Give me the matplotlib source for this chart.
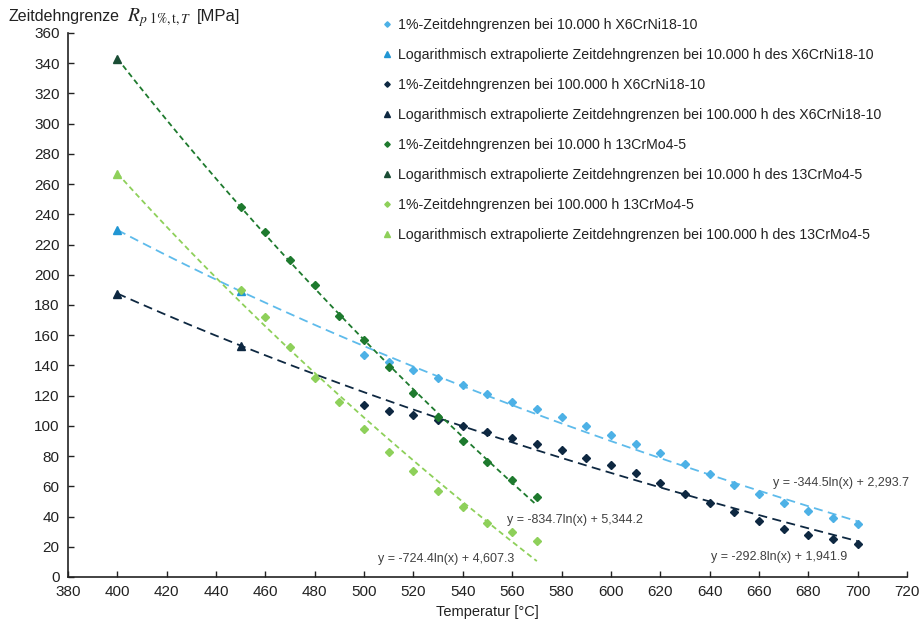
import numpy as np
import matplotlib
matplotlib.use("Agg")
import matplotlib.pyplot as plt

plt.rcParams["font.family"] = ["Liberation Sans", "DejaVu Sans"]
plt.rcParams["mathtext.fontset"] = "stix"

# --- data -------------------------------------------------------------
temp_x6 = [500, 510, 520, 530, 540, 550, 560, 570, 580, 590, 600,
           610, 620, 630, 640, 650, 660, 670, 680, 690, 700]
x6_10k = [147, 142, 137, 132, 127, 121, 116, 111, 106, 100, 94,
          88, 82, 75, 68, 61, 55, 49, 44, 39, 35]
x6_100k = [114, 110, 107, 104, 100, 96, 92, 88, 84, 79, 74,
           69, 62, 55, 49, 43, 37, 32, 28, 25, 22]

temp_x6_ext = [400, 450]
x6_10k_ext = [229.6, 189.1]
x6_100k_ext = [187.6, 153.1]

temp_cr = [450, 460, 470, 480, 490, 500, 510, 520, 530, 540, 550, 560, 570]
cr_10k = [245, 228, 210, 193, 173, 157, 139, 122, 106, 90, 76, 64, 53]
cr_100k = [190, 172, 152, 132, 116, 98, 83, 70, 57, 46, 36, 30, 24]

temp_cr_ext = [400]
cr_10k_ext = [343.1]
cr_100k_ext = [267.0]

# logarithmic trend lines: (slope, intercept, x-start, x-end)
trend_x6_10k = (-344.5, 2293.7, 400, 700)
trend_x6_100k = (-292.8, 1941.9, 400, 700)
trend_cr_10k = (-834.7, 5344.2, 400, 570)
trend_cr_100k = (-724.4, 4607.3, 400, 570)

c_lblue = "#4DB1E6"
c_blue_tri = "#2196D3"
c_navy = "#0E2841"
c_dgreen = "#1E7A2E"
c_dgreen_tri = "#1A4D35"
c_lgreen = "#8ED05A"
c_text = "#222222"

fig = plt.figure(figsize=(9.21, 6.28), dpi=100)
ax = fig.add_axes([68 / 921, 51 / 628, 839 / 921, 544 / 628])

def trend(params, color, dash):
    a, b, x0, x1 = params
    xs = np.linspace(x0, x1, 200)
    ax.plot(xs, a * np.log(xs) + b, color=color, lw=1.3,
            linestyle=(0, dash), zorder=2)

trend(trend_x6_10k, "#5EBBEB", (5, 3))
trend(trend_x6_100k, c_navy, (5, 3))
trend(trend_cr_10k, c_dgreen, (3, 2))
trend(trend_cr_100k, c_lgreen, (3, 2))

ms_d = 3.7
ms_t = 5.5
ax.plot(temp_x6, x6_10k, "D", color=c_lblue, ms=ms_d, ls="none", zorder=3,
        label="1%-Zeitdehngrenzen bei 10.000 h X6CrNi18-10")
ax.plot(temp_x6_ext, x6_10k_ext, "^", color=c_blue_tri, ms=ms_t, ls="none", zorder=3,
        label="Logarithmisch extrapolierte Zeitdehngrenzen bei 10.000 h des X6CrNi18-10")
ax.plot(temp_x6, x6_100k, "D", color=c_navy, ms=ms_d, ls="none", zorder=3,
        label="1%-Zeitdehngrenzen bei 100.000 h X6CrNi18-10")
ax.plot(temp_x6_ext, x6_100k_ext, "^", color=c_navy, ms=ms_t, ls="none", zorder=3,
        label="Logarithmisch extrapolierte Zeitdehngrenzen bei 100.000 h des X6CrNi18-10")
ax.plot(temp_cr, cr_10k, "D", color=c_dgreen, ms=ms_d, ls="none", zorder=3,
        label="1%-Zeitdehngrenzen bei 10.000 h 13CrMo4-5")
ax.plot(temp_cr_ext, cr_10k_ext, "^", color=c_dgreen_tri, ms=ms_t, ls="none", zorder=3,
        label="Logarithmisch extrapolierte Zeitdehngrenzen bei 10.000 h des 13CrMo4-5")
ax.plot(temp_cr, cr_100k, "D", color=c_lgreen, ms=ms_d, ls="none", zorder=3,
        label="1%-Zeitdehngrenzen bei 100.000 h 13CrMo4-5")
ax.plot(temp_cr_ext, cr_100k_ext, "^", color=c_lgreen, ms=ms_t, ls="none", zorder=3,
        label="Logarithmisch extrapolierte Zeitdehngrenzen bei 100.000 h des 13CrMo4-5")

# trend line equations
eq_kw = dict(fontsize=9.0, color="#404040", ha="left", va="center")
ax.text(665.5, 62.4, "y = -344.5ln(x) + 2,293.7", **eq_kw)
ax.text(640.5, 13.4, "y = -292.8ln(x) + 1,941.9", **eq_kw)
ax.text(557.7, 37.7, "y = -834.7ln(x) + 5,344.2", **eq_kw)
ax.text(505.7, 11.7, "y = -724.4ln(x) + 4,607.3", **eq_kw)

ax.set_xlim(380, 720)
ax.set_ylim(0, 360)
ax.set_xticks(np.arange(380, 721, 20))
ax.set_yticks(np.arange(0, 361, 20))
ax.tick_params(direction="in", length=4, width=1, labelsize=11,
               colors=c_text, pad=6)
for s in ("top", "right"):
    ax.spines[s].set_visible(False)
for s in ("left", "bottom"):
    ax.spines[s].set_color(c_text)
    ax.spines[s].set_linewidth(1.2)

ax.set_xlabel("Temperatur [°C]", fontsize=10.5, color=c_text, labelpad=4)

# y-axis title written horizontally above the axis
ty = 1 - 17 / 628
fig.text(8 / 921, ty, "Zeitdehngrenze", fontsize=11.5, color=c_text,
         ha="left", va="center")
fig.text(127 / 921, ty - 1 / 628, r"$R_{p\ 1\%,\mathrm{t},T}$", fontsize=14,
         color=c_text, ha="left", va="center")
fig.text(197 / 921, ty, "[MPa]", fontsize=12, color=c_text,
         ha="left", va="center")

leg = ax.legend(loc="upper left", bbox_to_anchor=(377 / 921, 1 - 12 / 628),
                bbox_transform=fig.transFigure, frameon=False,
                fontsize=10.2, markerscale=0.75, handlelength=0.6,
                handletextpad=0.45, labelspacing=1.13, borderaxespad=0)
for t in leg.get_texts():
    t.set_color(c_text)

fig.savefig("out.png", dpi=100)
